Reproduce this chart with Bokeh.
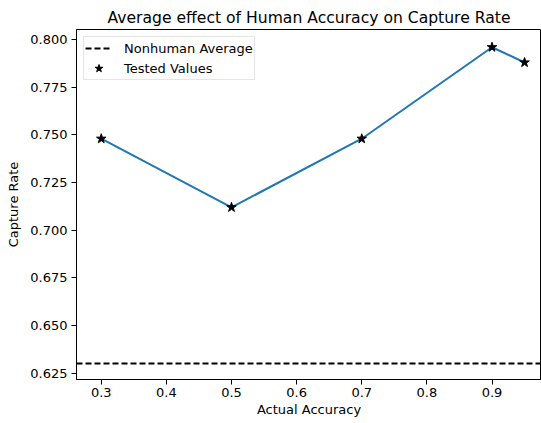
from bokeh.plotting import figure
from bokeh.models import Range1d, FixedTicker, PrintfTickFormatter, Legend, LegendItem
from bokeh.embed import file_html
from bokeh.resources import INLINE

accuracy = [0.3, 0.5, 0.7, 0.9, 0.95]
capture_rate = [0.748, 0.712, 0.748, 0.796, 0.788]
nonhuman_average = 0.630
x_ticks = [0.3, 0.4, 0.5, 0.6, 0.7, 0.8, 0.9]
y_ticks = [0.625, 0.650, 0.675, 0.700, 0.725, 0.750, 0.775, 0.800]
x_limits = (0.262, 0.976)      # visible x extent (right side cropped in the reference)
y_limits = (0.6217, 0.8053)

FONT = "DejaVu Sans"

p = figure(width=541, height=423, output_backend="svg", toolbar_location=None,
           x_range=Range1d(*x_limits), y_range=Range1d(*y_limits),
           min_border_left=76, min_border_right=0, min_border_top=29, min_border_bottom=44,
           title="Average effect of Human Accuracy on Capture Rate")

p.title.text_font = FONT
p.title.text_font_size = "15.6px"
p.title.text_font_style = "normal"
p.title.align = "center"
p.title.text_color = "black"
p.title.standoff = 6

p.grid.visible = False
p.outline_line_color = "black"
p.outline_line_width = 1
p.background_fill_color = "white"
p.border_fill_color = "white"

for ax in (p.xaxis[0], p.yaxis[0]):
    ax.major_label_text_font = FONT
    ax.major_label_text_font_size = "13px"
    ax.major_label_text_color = "black"
    ax.axis_label_text_font = FONT
    ax.axis_label_text_font_size = "13px"
    ax.axis_label_text_font_style = "normal"
    ax.axis_label_text_color = "black"
    ax.axis_line_color = "black"
    ax.major_tick_line_color = "black"
    ax.major_tick_in = 0
    ax.major_tick_out = 5
    ax.minor_tick_line_color = None

p.xaxis.ticker = FixedTicker(ticks=x_ticks)
p.yaxis.ticker = FixedTicker(ticks=y_ticks)
p.xaxis.formatter = PrintfTickFormatter(format="%.1f")
p.yaxis.formatter = PrintfTickFormatter(format="%.3f")
p.xaxis.axis_label = "Actual Accuracy"
p.yaxis.axis_label = "Capture Rate"
p.xaxis.major_label_standoff = 3
p.xaxis.axis_label_standoff = 2
p.yaxis.major_label_standoff = 4
p.yaxis.axis_label_standoff = 6

r_avg = p.hspan(y=[nonhuman_average], line_color="black", line_dash="6 3", line_width=1.8)
p.line(accuracy, capture_rate, line_color="#1f77b4", line_width=2)
r_pts = p.scatter(accuracy, capture_rate, marker="star", size=10,
                  fill_color="black", line_color="black")

legend = Legend(items=[LegendItem(label="Nonhuman Average", renderers=[r_avg]),
                       LegendItem(label="Tested Values", renderers=[r_pts])],
                location="top_left")
legend.margin = 7
legend.padding = 1
legend.spacing = 0
legend.label_height = 20
legend.glyph_height = 20
legend.glyph_width = 27
legend.label_standoff = 12
legend.label_text_font = FONT
legend.label_text_font_size = "13px"
legend.label_text_color = "black"
legend.border_line_color = "#cccccc"
legend.border_line_width = 1
legend.background_fill_color = "white"
legend.background_fill_alpha = 0.8
p.add_layout(legend)

open("out.html", "w").write(file_html(p, INLINE))
